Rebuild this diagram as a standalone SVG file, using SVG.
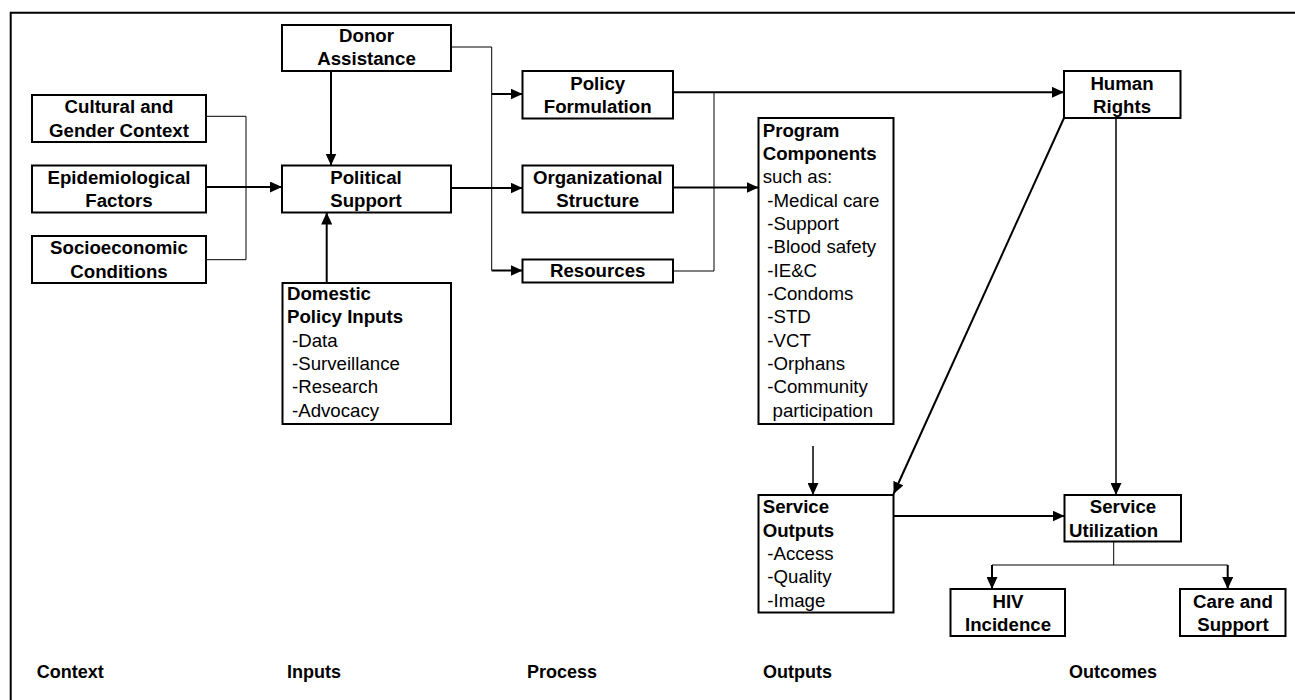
<svg xmlns="http://www.w3.org/2000/svg" width="1295" height="700" viewBox="0 0 1295 700">
<style>
text{font-family:"Liberation Sans",Arial,sans-serif;font-size:18.67px;fill:#000}
.b{font-weight:bold}
.c{text-anchor:middle}
rect{fill:#fff;stroke:#000;stroke-width:2}
.k{fill:none;stroke:#000;stroke-width:2}
.t{fill:none;stroke:#000;stroke-width:1}
.m{fill:none;stroke:#000;stroke-width:1.5}
.lbl{font-weight:bold;font-size:18px}
</style>
<defs>
<marker id="ah" markerUnits="userSpaceOnUse" markerWidth="12" markerHeight="11" refX="12" refY="5.5" orient="auto">
<path d="M0,0 L12,5.5 L0,11 z" fill="#000"/>
</marker>
</defs>
<path d="M10.7,700 V12.7 H1295" fill="none" stroke="#000" stroke-width="2"/>
<g id="connectors">
<path class="t" d="M206,116.3 H246 V259.7 H206"/>
<path class="t" d="M451,47 H491.7 V270.5"/>
<path class="t" d="M714,92.3 V271 H673"/>
<path class="t" d="M1113.7,541.7 V565"/>
<path class="t" d="M992,565 H1227.7"/>
<path class="k" d="M206,187 H282" marker-end="url(#ah)"/>
<path class="k" d="M331,71 V165.5" marker-end="url(#ah)"/>
<path class="k" d="M326.7,283 V212.5" marker-end="url(#ah)"/>
<path class="k" d="M451,188 H522.5" marker-end="url(#ah)"/>
<path class="k" d="M491.7,94 H522.5" marker-end="url(#ah)"/>
<path class="k" d="M491.7,270.5 H522.5" marker-end="url(#ah)"/>
<path class="k" d="M673,92.3 H1064" marker-end="url(#ah)"/>
<path class="k" d="M673,187.5 H758.5" marker-end="url(#ah)"/>
<path class="k" d="M1064,118 L893.5,494" marker-end="url(#ah)"/>
<path class="m" d="M813,446 V495" marker-end="url(#ah)"/>
<path class="k" d="M893.5,516 H1064.5" marker-end="url(#ah)"/>
<path class="m" d="M1116,118 V495" marker-end="url(#ah)"/>
<path class="k" d="M992,565 V589" marker-end="url(#ah)"/>
<path class="k" d="M1227.7,565 V589" marker-end="url(#ah)"/>
</g>
<g id="donor"><rect x="282" y="25" width="169" height="46"/>
<text class="b c" x="366.5" y="41.5">Donor</text><text class="b c" x="366.5" y="65">Assistance</text></g>
<g id="cultural"><rect x="32" y="95" width="174" height="47"/>
<text class="b c" x="119" y="113.3">Cultural and</text><text class="b c" x="119" y="136.7">Gender Context</text></g>
<g id="epidemiological"><rect x="32" y="165.5" width="174" height="47"/>
<text class="b c" x="119" y="184">Epidemiological</text><text class="b c" x="119" y="207.3">Factors</text></g>
<g id="socioeconomic"><rect x="32" y="236" width="174" height="47"/>
<text class="b c" x="119" y="254.3">Socioeconomic</text><text class="b c" x="119" y="277.6">Conditions</text></g>
<g id="political"><rect x="282" y="165.5" width="169" height="47"/>
<text class="b c" x="366" y="184">Political</text><text class="b c" x="366" y="207.3">Support</text></g>
<g id="domestic"><rect x="282.5" y="283" width="168.5" height="141"/>
<text class="b" x="287" y="300">Domestic</text><text class="b" x="287" y="323.3">Policy Inputs</text>
<text x="292" y="346.7">-Data</text><text x="292" y="370">-Surveillance</text><text x="292" y="393.3">-Research</text><text x="292" y="416.6">-Advocacy</text></g>
<g id="policy"><rect x="522.5" y="71" width="150.5" height="47.5"/>
<text class="b c" x="597.7" y="89.5">Policy</text><text class="b c" x="597.7" y="113">Formulation</text></g>
<g id="organizational"><rect x="522.5" y="165.5" width="150.5" height="47"/>
<text class="b c" x="597.7" y="184">Organizational</text><text class="b c" x="597.7" y="207.3">Structure</text></g>
<g id="resources"><rect x="522.5" y="259.5" width="150.5" height="23"/>
<text class="b c" x="597.7" y="277.3">Resources</text></g>
<g id="program"><rect x="758.5" y="118" width="135" height="306"/>
<text class="b" x="762.7" y="136.7">Program</text><text class="b" x="762.7" y="160">Components</text>
<text x="762.7" y="183.3">such as:</text>
<text x="767.3" y="206.7">-Medical care</text><text x="767.3" y="230">-Support</text><text x="767.3" y="253.3">-Blood safety</text>
<text x="767.3" y="276.7">-IE&amp;C</text><text x="767.3" y="300">-Condoms</text><text x="767.3" y="323.3">-STD</text>
<text x="767.3" y="346.7">-VCT</text><text x="767.3" y="370">-Orphans</text><text x="767.3" y="393.3">-Community</text>
<text x="772.5" y="416.7">participation</text></g>
<g id="human"><rect x="1064" y="71" width="116.5" height="47"/>
<text class="b c" x="1122" y="89.5">Human</text><text class="b c" x="1122" y="113">Rights</text></g>
<g id="service-outputs"><rect x="758.5" y="495" width="135" height="117.5"/>
<text class="b" x="762.7" y="513.3">Service</text><text class="b" x="762.7" y="536.6">Outputs</text>
<text x="767.3" y="560">-Access</text><text x="767.3" y="583.3">-Quality</text><text x="767.3" y="606.6">-Image</text></g>
<g id="service-utilization"><rect x="1064.5" y="495" width="116.5" height="46.5"/>
<text class="b c" x="1123" y="513.3">Service</text><text class="b" x="1069" y="536.6">Utilization</text></g>
<g id="hiv"><rect x="950.5" y="589" width="114.5" height="47"/>
<text class="b c" x="1008" y="607.5">HIV</text><text class="b c" x="1008" y="631">Incidence</text></g>
<g id="care"><rect x="1180" y="589" width="105.5" height="47"/>
<text class="b c" x="1233" y="607.5">Care and</text><text class="b c" x="1233" y="631">Support</text></g>
<g id="stages">
<text class="lbl" x="36.7" y="677.5">Context</text>
<text class="lbl" x="287" y="677.5">Inputs</text>
<text class="lbl" x="527" y="677.5">Process</text>
<text class="lbl" x="763" y="677.5">Outputs</text>
<text class="lbl" x="1069" y="677.5">Outcomes</text>
</g>
</svg>
